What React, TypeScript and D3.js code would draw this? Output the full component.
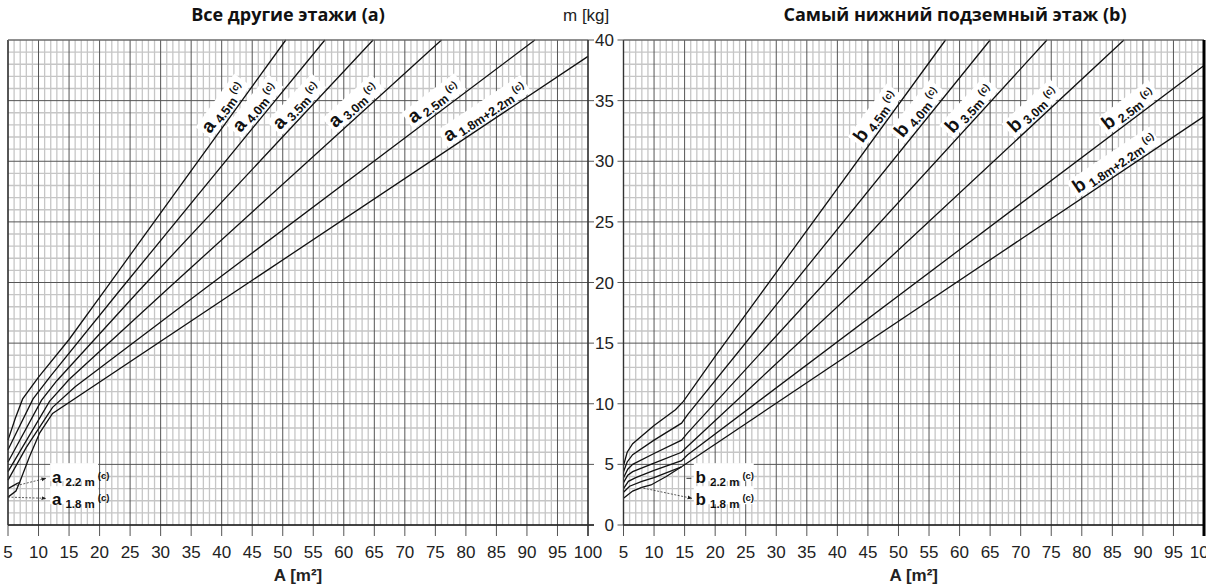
import React from "react";
import * as d3 from "d3";

type Pt = [number, number];

// ---------- axis ticks ----------
const xTickValues = [5, 10, 15, 20, 25, 30, 35, 40, 45, 50, 55, 60, 65, 70, 75, 80, 85, 90, 95, 100];
const yTickValues = [0, 5, 10, 15, 20, 25, 30, 35, 40];

// ---------- panel (a): all other floors ----------
const a45: Pt[] = [[5, 7.0], [6.2, 8.8], [7.4, 10.4], [10, 12.2], [15, 15.3], [20.9, 19.4], [50.5, 40]];
const a40: Pt[] = [[5, 6.2], [9.1, 10.4], [12, 12.3], [23.4, 19.4], [56.9, 40]];
const a35: Pt[] = [[5, 5.2], [10.5, 10.3], [13, 11.9], [26.6, 19.4], [64.8, 40]];
const a30: Pt[] = [[5, 4.4], [11.8, 10.2], [15, 12.0], [31, 19.4], [76, 40]];
const a25: Pt[] = [[5, 3.7], [8, 6.4], [12.3, 9.7], [16, 11.4], [37, 19.4], [91.3, 40]];
const a22: Pt[] = [[5, 3.0], [6.6, 3.45]];
const a18: Pt[] = [[5, 2.3], [6.3, 2.8], [6.9, 3.5]];
const a1822: Pt[] = [[6.6, 3.45], [6.9, 3.5], [8.5, 5.6], [10.2, 7.6], [12.3, 9.2], [100, 38.65]];

// ---------- panel (b): lowest underground floor ----------
const b45: Pt[] = [[5, 4.9], [5.6, 6.0], [6.5, 6.7], [10, 8.2], [13.5, 9.5], [14.8, 10.2], [20, 13.9], [57.7, 40]];
const b40: Pt[] = [[5, 4.4], [5.6, 5.2], [6.5, 5.8], [10, 7.0], [14.5, 8.4], [15.5, 9.1], [65, 40]];
const b35: Pt[] = [[5, 3.9], [5.7, 4.6], [6.5, 5.0], [10, 5.9], [14.5, 7.0], [15.5, 7.6], [74.3, 40]];
const b30: Pt[] = [[5, 3.5], [5.7, 4.1], [6.5, 4.4], [10, 5.1], [14.5, 6.0], [15.5, 6.5], [86.9, 40]];
const b25: Pt[] = [[5, 3.0], [5.8, 3.6], [7, 3.9], [10, 4.5], [14.5, 5.3], [15.5, 5.8], [100, 37.9]];
const b22: Pt[] = [[5, 2.7], [6, 3.2], [8, 3.6], [10, 3.9], [14.5, 4.8]];
const b18: Pt[] = [[5, 2.2], [6.5, 2.8], [8, 3.1], [9.5, 3.3], [12, 4.0], [14.5, 4.8]];
const b1822: Pt[] = [[14.5, 4.8], [100, 33.7]];

// ---------- label texts ----------
const heightSubs = ["4.5m", "4.0m", "3.5m", "3.0m", "2.5m", "1.8m+2.2m"];
const titleA = "Все другие этажи (a)";
const titleB = "Самый нижний подземный этаж (b)";
const yAxisTitle = "m [kg]";
const xAxisTitle = "A [m²]";

// ---------- layout ----------
const W = 1206;
const H = 586;
const Y0 = 525;
const Y1 = 40;
const LEFT = { x0: 8, x1: 588 };
const RIGHT = { x0: 623.5, x1: 1204 };
const labelAtA = [39.5, 44.5, 51, 60, 72.8, 78.5];
const labelAtB = [45.5, 52.1, 60.3, 70.4, 85.6, 80.7];

const NARROW = "'Liberation Sans Narrow', 'Arial Narrow', sans-serif";
const SANS = "'Liberation Sans', Arial, sans-serif";

function interp(pts: Pt[], a: number): { m: number; i: number } {
  for (let i = 0; i < pts.length - 1; i++) {
    const [a1, m1] = pts[i];
    const [a2, m2] = pts[i + 1];
    if (a >= a1 && a <= a2) {
      return { m: m1 + ((a - a1) / (a2 - a1)) * (m2 - m1), i };
    }
  }
  return { m: pts[pts.length - 1][1], i: pts.length - 2 };
}

function Panel(props: {
  x0: number;
  x1: number;
  curves: Pt[][];
  labelCurves: Pt[][];
  labelAt: number[];
  letter: string;
  extraRight: boolean;
  thickRight: boolean;
}) {
  const { x0, x1, curves, labelCurves, labelAt, letter, extraRight, thickRight } = props;
  const x = d3.scaleLinear().domain([5, 100]).range([x0, x1]);
  const y = d3.scaleLinear().domain([0, 40]).range([Y0, Y1]);
  const line = d3
    .line<Pt>()
    .x((d) => x(d[0]))
    .y((d) => y(d[1]));

  const minorX = d3.range(5, 101, 1).filter((v) => v % 5 !== 0);
  const minorY = d3.range(0, 41, 1).filter((v) => v % 5 !== 0);

  const labels = labelCurves.map((pts, k) => {
    const a = labelAt[k];
    const { m, i } = interp(pts, a);
    const p1 = pts[i];
    const p2 = pts[i + 1];
    const ang = (Math.atan2(y(p2[1]) - y(p1[1]), x(p2[0]) - x(p1[0])) * 180) / Math.PI;
    const sub = heightSubs[k];
    const w = sub.length > 5 ? 100 : 66;
    return { px: x(a), py: y(m), ang, sub, w };
  });

  return (
    <g>
      {/* minor grid */}
      {minorX.map((v) => (
        <line key={"mx" + v} x1={x(v)} x2={x(v)} y1={Y1} y2={Y0} stroke="#c6c6c6" strokeWidth={1.3} />
      ))}
      {minorY.map((v) => (
        <line key={"my" + v} x1={x0} x2={x1} y1={y(v)} y2={y(v)} stroke="#c6c6c6" strokeWidth={1.3} />
      ))}
      {/* major grid */}
      {xTickValues.map((v) => (
        <line key={"Mx" + v} x1={x(v)} x2={x(v)} y1={Y1} y2={Y0 + 11} stroke="#555" strokeWidth={1} />
      ))}
      {yTickValues.map((v) => (
        <line
          key={"My" + v}
          x1={extraRight ? x0 : x0 - 6}
          x2={extraRight ? x1 + 6 : x1}
          y1={y(v)}
          y2={y(v)}
          stroke="#555"
          strokeWidth={1}
        />
      ))}
      {/* label backgrounds */}
      {labels.map((l, k) => (
        <g key={"lb" + k} transform={`translate(${l.px},${l.py}) rotate(${l.ang})`}>
          <rect x={-9} y={-22} width={l.w} height={20} fill="#fff" />
        </g>
      ))}
      {/* curves */}
      {curves.map((c, k) => (
        <path key={"c" + k} d={line(c) || ""} fill="none" stroke="#111" strokeWidth={1.3} />
      ))}
      {/* curve labels */}
      {labels.map((l, k) => (
        <g key={"lt" + k} transform={`translate(${l.px},${l.py}) rotate(${l.ang})`}>
          <text x={-6} y={-6} fontFamily={SANS} fontWeight="bold" fill="#111">
            <tspan fontSize={19}>{letter}</tspan>
            <tspan fontSize={12.5} dx={4} dy={3}>
              {l.sub}
            </tspan>
            <tspan fontSize={10} dx={3} dy={-7}>
              (c)
            </tspan>
          </text>
        </g>
      ))}
      {/* axes */}
      <line x1={x0} x2={x1 + (extraRight ? 6 : 0)} y1={Y0} y2={Y0} stroke="#222" strokeWidth={1.6} />
      <line x1={x0} x2={x0} y1={Y1} y2={Y0} stroke="#333" strokeWidth={1.4} />
      <line x1={x0} x2={x1} y1={Y1} y2={Y1} stroke="#777" strokeWidth={1} />
      <line
        x1={x1}
        x2={x1}
        y1={Y1}
        y2={Y0 + 11}
        stroke={thickRight ? "#000" : "#333"}
        strokeWidth={thickRight ? 3 : 1.4}
      />
      {/* x tick labels */}
      {xTickValues.map((v) => (
        <text key={"xt" + v} x={x(v)} y={558} textAnchor="middle" fontFamily={NARROW} fontSize={17} fill="#222">
          {v}
        </text>
      ))}
      <text x={(x0 + x1) / 2} y={581} textAnchor="middle" fontFamily={SANS} fontWeight="bold" fontSize={17} fill="#222">
        {xAxisTitle}
      </text>
    </g>
  );
}

function SmallLabel(props: { px: number; py: number; letter: string; sub: string }) {
  const { px, py, letter, sub } = props;
  return (
    <text x={px} y={py} fontFamily={SANS} fontWeight="bold" fill="#111">
      <tspan fontSize={17}>{letter}</tspan>
      <tspan fontSize={11.5} dx={4} dy={3}>
        {sub}
      </tspan>
      <tspan fontSize={9.5} dx={3} dy={-7}>
        (c)
      </tspan>
    </text>
  );
}

export default function App() {
  const xl = d3.scaleLinear().domain([5, 100]).range([LEFT.x0, LEFT.x1]);
  const xr = d3.scaleLinear().domain([5, 100]).range([RIGHT.x0, RIGHT.x1]);
  const y = d3.scaleLinear().domain([0, 40]).range([Y0, Y1]);

  return (
    <svg
      width={W}
      height={H}
      viewBox={`0 0 ${W} ${H}`}
      style={{ position: "absolute", left: 0, top: 0, background: "#fff" }}
    >
      <defs>
        <marker id="arrowHead" viewBox="0 0 10 10" refX={9} refY={5} markerWidth={6} markerHeight={6} orient="auto">
          <path d="M0,1 L10,5 L0,9 z" fill="#222" />
        </marker>
      </defs>
      <rect x={0} y={0} width={W} height={H} fill="#fff" />

      <Panel
        x0={LEFT.x0}
        x1={LEFT.x1}
        curves={[a45, a40, a35, a30, a25, a22, a18, a1822]}
        labelCurves={[a45, a40, a35, a30, a25, a1822]}
        labelAt={labelAtA}
        letter="a"
        extraRight={true}
        thickRight={false}
      />
      <Panel
        x0={RIGHT.x0}
        x1={RIGHT.x1}
        curves={[b45, b40, b35, b30, b25, b22, b18, b1822]}
        labelCurves={[b45, b40, b35, b30, b25, b1822]}
        labelAt={labelAtB}
        letter="b"
        extraRight={false}
        thickRight={true}
      />

      {/* y tick labels between the panels */}
      {yTickValues.map((v) => (
        <text key={"yt" + v} x={614} y={y(v) + 6} textAnchor="end" fontFamily={NARROW} fontSize={17} fill="#222">
          {v}
        </text>
      ))}
      <text x={563} y={21} fontFamily={NARROW} fontSize={17} fill="#222">
        {yAxisTitle}
      </text>

      {/* titles */}
      <text x={288} y={21} textAnchor="middle" fontFamily="'Open Sans', sans-serif" fontWeight="bold" fontSize={18} fill="#111">
        {titleA}
      </text>
      <text x={955} y={21} textAnchor="middle" fontFamily="'Open Sans', sans-serif" fontWeight="bold" fontSize={18} fill="#111">
        {titleB}
      </text>

      {/* small-height annotations, panel a */}
      <line x1={xl(6.4)} y1={y(3.25)} x2={xl(11.2)} y2={y(3.85)} stroke="#333" strokeWidth={0.8} strokeDasharray="2,1.5" markerEnd="url(#arrowHead)" />
      <line x1={xl(5)} y1={y(2.3)} x2={xl(11.2)} y2={y(2.2)} stroke="#333" strokeWidth={0.8} strokeDasharray="2,1.5" markerEnd="url(#arrowHead)" />
      <rect x={xl(11.9)} y={y(5.1)} width={48} height={18} fill="#fff" />
      <rect x={xl(11.9)} y={y(3.2)} width={48} height={18} fill="#fff" />
      <SmallLabel px={xl(12.2)} py={y(3.5)} letter="a" sub="2.2 m" />
      <SmallLabel px={xl(12.2)} py={y(1.65)} letter="a" sub="1.8 m" />

      {/* small-height annotations, panel b */}
      <line x1={xr(15.3)} y1={y(3.85)} x2={xr(16.1)} y2={y(3.85)} stroke="#333" strokeWidth={1} />
      <line x1={xr(7.7)} y1={y(3.1)} x2={xr(16.2)} y2={y(2.2)} stroke="#333" strokeWidth={0.8} strokeDasharray="2,1.5" markerEnd="url(#arrowHead)" />
      <rect x={xr(16.5)} y={y(5.1)} width={60} height={18} fill="#fff" />
      <rect x={xr(16.5)} y={y(3.2)} width={60} height={18} fill="#fff" />
      <SmallLabel px={xr(16.8)} py={y(3.5)} letter="b" sub="2.2 m" />
      <SmallLabel px={xr(16.8)} py={y(1.65)} letter="b" sub="1.8 m" />
    </svg>
  );
}
